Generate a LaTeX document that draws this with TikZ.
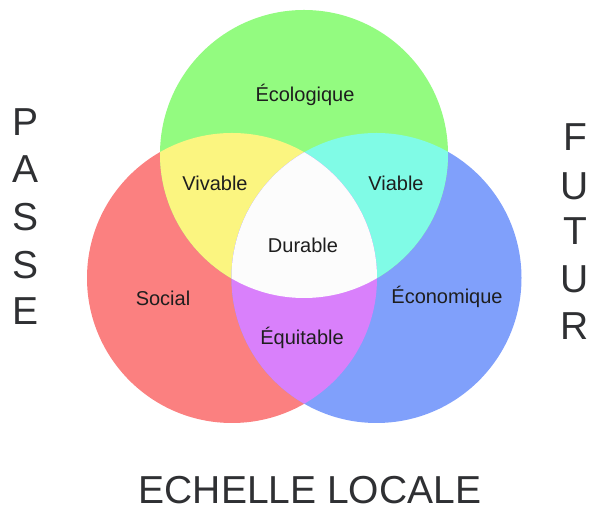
\documentclass[tikz,border=0pt]{standalone}
\usepackage{fontspec}
\setmainfont{Liberation Sans}
\definecolor{cgreen}{HTML}{93FB80}
\definecolor{cred}{HTML}{FB8080}
\definecolor{cblue}{HTML}{80A0FB}
\definecolor{cyellow}{HTML}{FBF580}
\definecolor{ccyan}{HTML}{80FBE6}
\definecolor{cpurple}{HTML}{D980FB}
\definecolor{cwhite}{HTML}{FCFCFC}
\definecolor{ctext}{HTML}{1E1E1E}
\definecolor{cbig}{HTML}{2F3033}
\tikzset{
  lbl/.style={font=\fontsize{20}{24}\selectfont, text=ctext, inner sep=0pt},
  big/.style={font=\fontsize{39}{44}\selectfont, text=cbig, inner sep=0pt},
}
\begin{document}
\begin{tikzpicture}[x=1pt,y=1pt]
\useasboundingbox (0,0) rectangle (589,513);
\def\greenc{(304,359) circle (144)}
\def\redc{(232,235) circle (145)}
\def\bluec{(376.5,235) circle (145)}
\fill[cred] \redc;
\fill[cblue] \bluec;
\fill[cgreen] \greenc;
\begin{scope}\clip \redc; \fill[cyellow] \greenc; \end{scope}
\begin{scope}\clip \bluec; \fill[ccyan] \greenc; \end{scope}
\begin{scope}\clip \redc; \fill[cpurple] \bluec; \end{scope}
\begin{scope}\clip \redc; \clip \bluec; \fill[cwhite] \greenc; \end{scope}
\node[lbl] (eco) at (305,418) {Écologique};
\node[lbl] (viv) at (215,330) {Vivable};
\node[lbl] (via) at (396,330) {Viable};
\node[lbl] (dur) at (303,268) {Durable};
\node[lbl] (soc) at (163,215) {Social};
\node[lbl] (econ) at (447,216) {Économique};
\node[lbl] (equ) at (302,175) {Équitable};
\node[big] (p1) at (26,391) {P};
\node[big] (p2) at (26,344) {A};
\node[big] (p3) at (26,296) {S};
\node[big] (p4) at (26,248) {S};
\node[big] (p5) at (26,202) {E};
\node[big] (f1) at (575,376) {F};
\node[big] (f2) at (575,327) {U};
\node[big] (f3) at (575,282) {T};
\node[big] (f4) at (575,234) {U};
\node[big] (f5) at (575,187) {R};
\node[big] (ech) at (310,23) {ECHELLE LOCALE};
\end{tikzpicture}
\end{document}
